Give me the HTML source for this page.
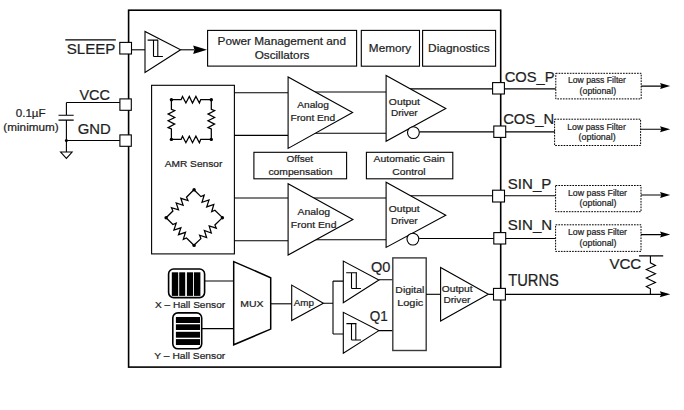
<!DOCTYPE html>
<html><head><meta charset="utf-8">
<style>
html,body{margin:0;padding:0;background:#fff;}
svg{display:block;}
text{font-family:"Liberation Sans",sans-serif;fill:#1e1e1e;stroke:#1e1e1e;stroke-width:0.22px;}
</style></head>
<body>
<svg width="684" height="410" viewBox="0 0 684 410">
<rect x="0" y="0" width="684" height="410" fill="#fff"/>
<g fill="none" stroke="#000" stroke-width="1.1" stroke-linejoin="miter">
<!-- main box -->
<rect x="128.6" y="10.2" width="372.1" height="356.9" stroke-width="1.6"/>

<!-- SLEEP path -->
<line x1="132" y1="49.8" x2="145" y2="49.8"/>
<polygon points="145,31.5 145,72.5 180.6,49.8" fill="#fff"/>
<path d="M147.6,40.1 H158.2 M153.5,40.1 V56.5 M157.8,40.1 V56.5 M153.5,56.5 H162.9"/>
<line x1="180.6" y1="49.8" x2="194" y2="49.8"/>
<path d="M193.2,45.6 L207,49.8 L193.2,54 L194.4,49.8 Z" fill="#000" stroke="none"/>
<rect x="207.6" y="30.4" width="149" height="35.7"/>
<rect x="361.3" y="30.4" width="58.2" height="35.8"/>
<rect x="422.6" y="30.4" width="73" height="35.8"/>

<!-- left external -->
<path d="M65.3,39.9 H115.8"/>
<path d="M66.4,102.5 H120.5 M66.4,102.5 V115.2 M58.5,115.2 H73.7 M58.5,120.1 H73.7 M66.4,120.1 V152 M66.4,140.5 H120.5"/>
<polygon points="60.6,152 72.1,152 66.4,158.4"/>
<circle cx="66.4" cy="140.5" r="1.5" fill="#000" stroke="none"/>

<!-- AMR box -->
<rect x="151.6" y="85.3" width="82.8" height="168.6"/>
<!-- square bridge -->
<g stroke-width="1.25">
<path d="M171.4,99.7 L181.1,99.7 L182.5,96.4 L185.9,103.0 L189.3,96.4 L192.5,103.0 L195.9,96.4 L199.4,103.0 L200.7,99.7 L211.3,99.7"/>
<path d="M171.4,139.4 L181.1,139.4 L182.5,136.1 L185.9,142.7 L189.3,136.1 L192.5,142.7 L195.9,136.1 L199.4,142.7 L200.7,139.4 L211.3,139.4"/>
<path d="M171.4,99.7 L171.4,109.4 L174.7,110.7 L168.1,114.1 L174.7,117.5 L168.1,120.7 L174.7,124.1 L168.1,127.6 L171.4,128.9 L171.4,139.4"/>
<path d="M211.3,99.7 L211.3,109.4 L214.6,110.7 L208.0,114.1 L214.6,117.5 L208.0,120.7 L214.6,124.1 L208.0,127.6 L211.3,128.9 L211.3,139.4"/>
</g>
<g fill="#000" stroke="none">
<circle cx="171.4" cy="99.7" r="1.7"/><circle cx="211.3" cy="99.7" r="1.7"/>
<circle cx="171.4" cy="139.4" r="1.7"/><circle cx="211.3" cy="139.4" r="1.7"/>
<circle cx="194.1" cy="189.8" r="1.7"/><circle cx="166.1" cy="217.8" r="1.7"/>
<circle cx="222.4" cy="217.8" r="1.7"/><circle cx="194.1" cy="245.4" r="1.7"/>
</g>
<!-- diamond bridge -->
<g stroke-width="1.25">
<path d="M166.1,217.8 L172.9,211.0 L171.5,207.7 L178.5,209.9 L176.2,202.9 L183.1,205.3 L180.8,198.3 L188.0,200.5 L186.5,197.2 L193.9,189.8"/>
<path d="M193.9,189.8 L200.9,196.6 L204.2,195.2 L202.0,202.3 L209.0,199.9 L206.7,206.9 L213.8,204.5 L211.7,211.7 L214.9,210.2 L222.5,217.6"/>
<path d="M166.1,217.8 L172.9,224.5 L176.2,223.1 L173.9,230.1 L180.9,227.8 L178.5,234.7 L185.5,232.3 L183.3,239.4 L186.5,238.0 L193.9,245.3"/>
<path d="M193.9,245.3 L200.9,238.6 L199.6,235.2 L206.6,237.6 L204.4,230.5 L211.3,233.0 L209.2,225.9 L216.3,228.2 L214.9,225.0 L222.5,217.6"/>
</g>

<!-- lines AMR -> AFE -->
<path d="M234.4,92.7 H288.1 M234.4,135.4 H288.1 M234.4,198 H288.1 M234.4,240.8 H288.1"/>
<path d="M300,92 H386.1 M300,133.2 H386.1 M300,198 H386.1 M300,239.8 H386.1"/>
<!-- AFE triangles -->
<polygon points="288.1,77 288.1,148.4 352.6,112.4" fill="#fff"/>
<polygon points="288.1,183.8 288.1,255.1 352.9,219.6" fill="#fff"/>
<!-- output drivers -->
<path d="M400,88.9 H555.8 M419.4,131.9 H555 M400,195.7 H555.6 M419.2,238.5 H555.6"/>
<polygon points="386.1,75.5 386.1,141.3 445.8,108.4" fill="#fff"/>
<polygon points="386.1,182.2 386.1,247.4 445.8,215.2" fill="#fff"/>
<circle cx="413.4" cy="132.6" r="5.9" fill="#fff"/>
<circle cx="412.9" cy="239.1" r="5.9" fill="#fff"/>

<!-- offset & AGC boxes -->
<rect x="253.9" y="152.3" width="92.7" height="26.5"/>
<rect x="366.4" y="152.3" width="86.4" height="26.5"/>

<!-- pins left -->
<rect x="119.8" y="42.4" width="11.7" height="11.6" fill="#fff"/>
<rect x="119.9" y="98.9" width="11.4" height="11.4" fill="#fff"/>
<rect x="119.9" y="134.9" width="11.4" height="11.4" fill="#fff"/>
<!-- pins right -->
<rect x="492.6" y="82.6" width="11.8" height="11.4" fill="#fff"/>
<rect x="493.8" y="126" width="11.9" height="11.4" fill="#fff"/>
<rect x="492.6" y="190.2" width="11.9" height="11.8" fill="#fff"/>
<rect x="493.8" y="232.6" width="11.9" height="11.4" fill="#fff"/>
<rect x="493.5" y="288.4" width="11.9" height="11.6" fill="#fff"/>

<!-- low pass filters -->
<g stroke-dasharray="1.7,1.1" stroke-width="1">
<rect x="555.8" y="73.3" width="85.4" height="25.6"/>
<rect x="554.6" y="119.2" width="86" height="26.3"/>
<rect x="555.6" y="185.5" width="85.4" height="26.2"/>
<rect x="555.6" y="224.8" width="85.4" height="26.6"/>
</g>
<path d="M641.2,86.1 H662 M640.6,129.3 H662 M641,195 H662 M641,234.6 H662"/>
<g fill="#000" stroke="none">
<polygon points="660,83.1 670.2,86.1 660,89.1 661.4,86.1"/>
<polygon points="660,126.3 670.2,129.3 660,132.3 661.4,129.3"/>
<polygon points="660,192 670.2,195 660,198 661.4,195"/>
<polygon points="660,231.6 670.2,234.6 660,237.6 661.4,234.6"/>
<polygon points="659.8,291.2 670.3,294.2 659.8,297.2 661.2,294.2"/>
</g>

<!-- bottom section -->
<rect x="168.6" y="269" width="36" height="28.6" rx="5" stroke-width="1.6"/>
<rect x="172.8" y="312.9" width="28.9" height="35.9" rx="5" stroke-width="1.6"/>
<path d="M204.5,281 H233.6 M202,328.6 H233.6"/>
<polygon points="233.7,261.6 270.7,277.7 270.7,329.1 233.7,344.8" fill="#fff" stroke-width="1.5"/>
<path d="M270.6,303.8 H291.7"/>
<polygon points="291.7,285.1 291.7,320.5 323.4,303.2" fill="#fff"/>
<path d="M323.4,303.2 H333 M333,281.1 V334 M333,281.1 H343.3 M333,334 H343.3"/>
<polygon points="343.3,261.1 343.3,302.8 378.9,280" fill="#fff"/>
<polygon points="343.3,312.3 343.3,353.3 378.9,330.6" fill="#fff"/>
<path d="M346.2,272.7 H357 M351.5,272.7 V288.5 M356.3,272.7 V288.5 M351.5,288.5 H360.9"/>
<path d="M346.4,323.6 H356.5 M351.5,323.6 V340 M355.8,323.6 V340 M351.5,340 H361"/>
<path d="M378.9,279.8 H392.7 M378.9,330.6 H392.7"/>
<rect x="392.8" y="257.9" width="33.4" height="92.6" stroke="#3a3a3a" stroke-width="1.4"/>
<path d="M426.1,294.3 H440.6"/>
<polygon points="440.6,267.4 440.6,321.1 488.4,294.3" fill="#fff"/>
<path d="M488.4,294.4 H493.4 M505.4,294.4 H662"/>
<path d="M639,255.9 H663.2 M650.4,255.9 V262.8 L655.5,265.4 L646.3,269.6 L655.5,273.8 L646.3,278 L655.5,282.4 L646.3,286.6 L650.4,288.8 V294.2"/>
</g>

<!-- hall sensor bars -->
<g fill="#000">
<rect x="171.8" y="272.3" width="6.4" height="23.6"/>
<rect x="179.2" y="272.3" width="6" height="23.6"/>
<rect x="186.9" y="272.3" width="6.2" height="23.6"/>
<rect x="194" y="272.3" width="6.4" height="23.6"/>
<rect x="175.9" y="317" width="24.1" height="6"/>
<rect x="175.9" y="324.3" width="24.1" height="5.7"/>
<rect x="175.9" y="331.8" width="24.1" height="5.9"/>
<rect x="175.9" y="339.1" width="24.1" height="5.9"/>
</g>

<!-- TEXT -->
<text x="66.74" y="54.00" font-size="15.2" textLength="48.70" lengthAdjust="spacingAndGlyphs">SLEEP</text>
<text x="79.45" y="100.00" font-size="15.2" textLength="30.51" lengthAdjust="spacingAndGlyphs">VCC</text>
<text x="77.79" y="134.00" font-size="15.2" textLength="33.02" lengthAdjust="spacingAndGlyphs">GND</text>
<text x="504.67" y="82.00" font-size="15.2" textLength="49.91" lengthAdjust="spacingAndGlyphs">COS_P</text>
<text x="503.17" y="124.00" font-size="15.2" textLength="50.97" lengthAdjust="spacingAndGlyphs">COS_N</text>
<text x="507.82" y="189.00" font-size="15.2" textLength="43.48" lengthAdjust="spacingAndGlyphs">SIN_P</text>
<text x="507.82" y="230.00" font-size="15.2" textLength="44.36" lengthAdjust="spacingAndGlyphs">SIN_N</text>
<text x="508.21" y="286.00" font-size="15.6" textLength="50.75" lengthAdjust="spacingAndGlyphs">TURNS</text>
<text x="609.42" y="269.00" font-size="15.2" textLength="31.75" lengthAdjust="spacingAndGlyphs">VCC</text>
<text x="370.95" y="272.00" font-size="15.2" textLength="19.37" lengthAdjust="spacingAndGlyphs">Q0</text>
<text x="369.68" y="321.00" font-size="15.2" textLength="18.02" lengthAdjust="spacingAndGlyphs">Q1</text>
<text x="15.73" y="117.00" font-size="11" textLength="29.94" lengthAdjust="spacingAndGlyphs">0.1µF</text>
<text x="3.33" y="131.00" font-size="11.4" textLength="55.43" lengthAdjust="spacingAndGlyphs">(minimum)</text>
<text x="217.62" y="45.00" font-size="11.7" textLength="128.35" lengthAdjust="spacingAndGlyphs">Power Management and</text>
<text x="254.65" y="59.00" font-size="11.7" textLength="54.80" lengthAdjust="spacingAndGlyphs">Oscillators</text>
<text x="368.88" y="52.00" font-size="11.7" textLength="42.37" lengthAdjust="spacingAndGlyphs">Memory</text>
<text x="428.09" y="52.00" font-size="11.7" textLength="61.51" lengthAdjust="spacingAndGlyphs">Diagnostics</text>
<text x="297.28" y="108.00" font-size="9.6" textLength="31.64" lengthAdjust="spacingAndGlyphs">Analog</text>
<text x="290.42" y="121.00" font-size="9.6" textLength="44.81" lengthAdjust="spacingAndGlyphs">Front End</text>
<text x="297.46" y="215.00" font-size="9.6" textLength="32.61" lengthAdjust="spacingAndGlyphs">Analog</text>
<text x="290.84" y="228.00" font-size="9.6" textLength="45.61" lengthAdjust="spacingAndGlyphs">Front End</text>
<text x="388.83" y="105.00" font-size="9.6" textLength="31.11" lengthAdjust="spacingAndGlyphs">Output</text>
<text x="390.96" y="116.00" font-size="9.6" textLength="26.72" lengthAdjust="spacingAndGlyphs">Driver</text>
<text x="388.83" y="212.00" font-size="9.6" textLength="30.87" lengthAdjust="spacingAndGlyphs">Output</text>
<text x="390.96" y="224.00" font-size="9.6" textLength="26.72" lengthAdjust="spacingAndGlyphs">Driver</text>
<text x="286.57" y="162.00" font-size="9.6" textLength="26.56" lengthAdjust="spacingAndGlyphs">Offset</text>
<text x="268.42" y="175.00" font-size="9.6" textLength="64.17" lengthAdjust="spacingAndGlyphs">compensation</text>
<text x="373.62" y="162.00" font-size="9.6" textLength="71.31" lengthAdjust="spacingAndGlyphs">Automatic Gain</text>
<text x="392.28" y="175.00" font-size="9.6" textLength="33.27" lengthAdjust="spacingAndGlyphs">Control</text>
<text x="164.68" y="167.00" font-size="9.6" textLength="57.71" lengthAdjust="spacingAndGlyphs">AMR Sensor</text>
<text x="155.00" y="308.00" font-size="9.6" textLength="70.10" lengthAdjust="spacingAndGlyphs">X – Hall Sensor</text>
<text x="154.39" y="359.00" font-size="9.6" textLength="70.90" lengthAdjust="spacingAndGlyphs">Y – Hall Sensor</text>
<text x="240.20" y="307.00" font-size="9.6" textLength="23.23" lengthAdjust="spacingAndGlyphs">MUX</text>
<text x="293.68" y="306.00" font-size="9.6" textLength="20.23" lengthAdjust="spacingAndGlyphs">Amp</text>
<text x="395.37" y="293.00" font-size="9.6" textLength="28.94" lengthAdjust="spacingAndGlyphs">Digital</text>
<text x="397.18" y="306.00" font-size="9.6" textLength="26.11" lengthAdjust="spacingAndGlyphs">Logic</text>
<text x="441.84" y="292.00" font-size="9.6" textLength="30.77" lengthAdjust="spacingAndGlyphs">Output</text>
<text x="443.41" y="303.00" font-size="9.6" textLength="26.99" lengthAdjust="spacingAndGlyphs">Driver</text>
<text x="567.94" y="83.00" font-size="8.6" textLength="58.02" lengthAdjust="spacingAndGlyphs">Low pass Filter</text>
<text x="579.64" y="94.00" font-size="8.6" textLength="36.42" lengthAdjust="spacingAndGlyphs">(optional)</text>
<text x="567.28" y="130.00" font-size="8.6" textLength="58.58" lengthAdjust="spacingAndGlyphs">Low pass Filter</text>
<text x="578.64" y="140.00" font-size="8.6" textLength="36.99" lengthAdjust="spacingAndGlyphs">(optional)</text>
<text x="567.94" y="196.00" font-size="8.6" textLength="59.11" lengthAdjust="spacingAndGlyphs">Low pass Filter</text>
<text x="579.64" y="206.00" font-size="8.6" textLength="36.90" lengthAdjust="spacingAndGlyphs">(optional)</text>
<text x="567.94" y="235.00" font-size="8.6" textLength="59.11" lengthAdjust="spacingAndGlyphs">Low pass Filter</text>
<text x="579.64" y="246.00" font-size="8.6" textLength="36.90" lengthAdjust="spacingAndGlyphs">(optional)</text>
</svg>
</body></html>
